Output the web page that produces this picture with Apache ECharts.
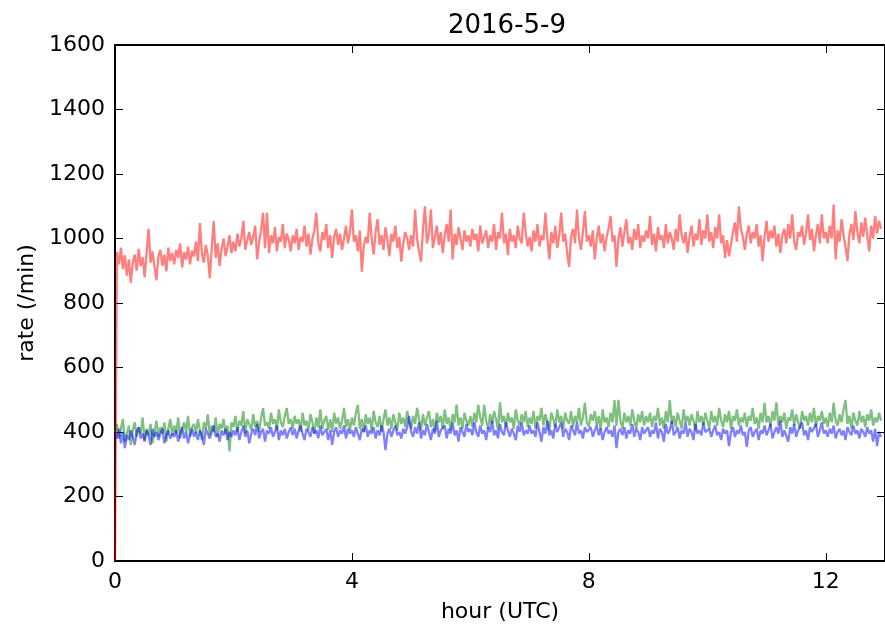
<!DOCTYPE html>
<html>
<head>
<meta charset="utf-8">
<script src="https://cdn.jsdelivr.net/npm/echarts@6/dist/echarts.min.js"></script>
<style>
  html, body { margin: 0; padding: 0; background: #fff; }
  #chart { width: 885px; height: 629px; }
</style>
</head>
<body>
<div id="chart"></div>
<script>
// Count rates per channel, one sample every 2 minutes (one row = one hour)
const sampleStepMinutes = 2;

const xTicks = [0, 4, 8, 12];
const yTicks = [0, 200, 400, 600, 800, 1000, 1200, 1400, 1600];

const redRate = [
  0, 958, 920, 972, 905, 948, 885, 935, 862, 925, 950, 900, 968, 915, 942, 880, 955, 1030, 925, 960, 912, 870, 945, 965, 915, 950, 898, 972, 930, 955,
  920, 965, 940, 985, 910, 958, 935, 975, 920, 962, 945, 990, 930, 1048, 955, 925, 980, 948, 877, 970, 1055, 940, 985, 915, 968, 1000, 945, 975, 1010, 955,
  990, 960, 1015, 975, 1000, 1055, 965, 995, 1020, 980, 1005, 1040, 935, 990, 1025, 1080, 970, 1080, 955, 1010, 985, 1035, 960, 1005, 990, 1045, 970, 1015, 995, 960,
  1010, 985, 1030, 965, 1005, 990, 1040, 975, 1015, 950, 1000, 1025, 1080, 985, 960, 1020, 995, 1045, 970, 1010, 940, 1005, 1030, 980, 1015, 965, 1000, 1040, 985, 1020,
  1090, 990, 1010, 960, 1025, 897, 975, 1005, 985, 1080, 1000, 950, 1020, 1060, 980, 1010, 965, 1035, 995, 945, 1015, 990, 1040, 970, 1005, 928, 985, 1020, 1000, 965,
  1010, 975, 1090, 1000, 960, 928, 1030, 1100, 985, 1015, 1090, 970, 1005, 1040, 980, 1020, 955, 1010, 1045, 990, 1090, 935, 1015, 980, 1035, 1000, 965, 1025, 990, 1010,
  975, 1030, 995, 1015, 960, 1040, 985, 1005, 1025, 970, 1010, 990, 1045, 965, 1020, 1000, 1080, 985, 1015, 948, 1030, 990, 1010, 970, 1040, 1000, 985, 1080, 1020, 975,
  1005, 960, 1025, 990, 1045, 975, 1010, 995, 1080, 1000, 935, 1020, 985, 1040, 970, 1010, 1080, 990, 1015, 955, 912, 1005, 1030, 985, 1090, 1000, 965, 1020, 1085, 990,
  1010, 975, 1025, 935, 1000, 1040, 985, 1015, 960, 1005, 1030, 1070, 990, 1010, 912, 1000, 1035, 975, 1020, 1060, 985, 1005, 965, 1030, 995, 1045, 970, 1010, 990, 1025,
  1000, 1070, 980, 1015, 960, 1035, 995, 1010, 970, 1045, 985, 1020, 1000, 965, 1030, 990, 1075, 1010, 985, 1020, 955, 1005, 1040, 975, 1015, 995, 1060, 980, 1025, 1000,
  1075, 990, 1020, 970, 1035, 1000, 1075, 985, 1010, 940, 995, 945, 940, 1020, 1050, 990, 1100, 1030, 1005, 965, 1015, 1040, 985, 1020, 1000, 1045, 975, 1010, 930, 1005,
  1055, 990, 1025, 1000, 1040, 975, 1015, 955, 1010, 1030, 985, 1045, 1000, 1075, 990, 965, 1020, 1005, 1040, 980, 1015, 1075, 995, 1030, 960, 1010, 1045, 985, 1075, 1000,
  1020, 985, 1040, 1000, 1105, 935, 1025, 990, 1060, 1010, 975, 930, 1015, 1045, 995, 1085, 1020, 985, 1050, 1005, 1065, 1010, 960, 1040, 1000, 1070, 1015, 1055, 1030
];

const greenRate = [
  400, 425, 380, 410, 440, 370, 395, 420, 360, 405, 430, 385, 415, 395, 445, 375, 410, 390, 425, 365, 400, 435, 385, 415, 395, 430, 370, 410, 440, 390,
  420, 395, 445, 380, 410, 430, 400, 450, 385, 415, 425, 395, 440, 405, 375, 430, 410, 455, 390, 420, 400, 445, 385, 425, 410, 440, 395, 420, 340, 430,
  415, 450, 400, 435, 420, 465, 395, 440, 425, 405, 455, 415, 435, 400, 445, 474, 420, 430, 410, 460, 425, 440, 405, 470, 430, 415, 450, 474, 425, 440,
  410, 450, 425, 440, 400, 460, 420, 435, 405, 455, 430, 395, 445, 415, 470, 410, 435, 450, 405, 440, 400, 460, 425, 445, 410, 435, 475, 415, 440, 405,
  445, 420, 460, 484, 410, 440, 400, 455, 425, 445, 405, 465, 430, 415, 450, 400, 440, 470, 420, 445, 410, 455, 430, 405, 460, 425, 445, 415, 465, 430,
  410, 450, 425, 475, 440, 405, 455, 420, 445, 465, 415, 440, 400, 460, 430, 450, 410, 470, 425, 445, 405, 455, 430, 485, 420, 445, 410, 460, 435, 420,
  450, 415, 460, 430, 484, 445, 420, 484, 435, 410, 455, 425, 465, 440, 405, 492, 430, 450, 415, 460, 430, 445, 410, 470, 435, 420, 455, 430, 465, 415,
  445, 425, 465, 410, 450, 435, 475, 420, 455, 430, 405, 460, 440, 415, 470, 430, 450, 410, 460, 435, 425, 465, 415, 450, 430, 475, 420, 445, 490, 430,
  415, 455, 435, 465, 420, 450, 405, 470, 430, 445, 415, 460, 430, 499, 420, 500, 435, 410, 460, 430, 450, 420, 470, 435, 410, 455, 430, 465, 420, 450,
  430, 460, 415, 450, 435, 475, 420, 445, 410, 465, 430, 499, 425, 450, 415, 460, 435, 410, 470, 430, 450, 420, 455, 435, 405, 465, 430, 450, 420, 460,
  435, 410, 465, 430, 450, 420, 475, 435, 415, 455, 430, 465, 410, 450, 435, 470, 420, 445, 430, 460, 415, 450, 435, 475, 425, 445, 410, 460, 430, 490,
  430, 450, 415, 465, 435, 492, 420, 450, 430, 460, 410, 445, 435, 470, 420, 455, 430, 410, 465, 435, 450, 420, 460, 430, 475, 415, 450, 435, 465, 425,
  445, 415, 460, 430, 490, 435, 420, 455, 430, 470, 499, 425, 450, 410, 460, 435, 420, 465, 430, 450, 415, 455, 435, 470, 420, 445, 430, 460, 435
];

const blueRate = [
  395, 380, 410, 365, 400, 350, 390, 375, 405, 385, 360, 400, 415, 380, 395, 370, 405, 390, 360, 410, 385, 400, 375, 395, 410, 365, 390, 405, 380, 395,
  385, 405, 370, 395, 415, 380, 400, 365, 390, 410, 385, 400, 375, 405, 390, 360, 410, 395, 380, 400, 420, 385, 395, 370, 405, 390, 410, 375, 400, 385,
  405, 390, 415, 375, 400, 420, 385, 405, 365, 395, 410, 390, 425, 380, 400, 410, 370, 405, 395, 415, 385, 400, 420, 375, 405, 390, 410, 380, 400, 415,
  390, 410, 380, 405, 420, 395, 375, 410, 400, 385, 415, 395, 405, 380, 420, 390, 400, 410, 375, 405, 360, 400, 415, 385, 405, 395, 420, 380, 410, 395,
  405, 385, 415, 395, 375, 410, 400, 420, 385, 405, 395, 415, 380, 405, 390, 420, 400, 344, 395, 410, 385, 405, 420, 390, 400, 380, 410, 395, 415, 450,
  400, 385, 415, 395, 430, 380, 405, 390, 425, 400, 375, 410, 395, 435, 385, 405, 400, 420, 380, 410, 395, 430, 390, 405, 370, 415, 400, 385, 425, 400,
  410, 390, 430, 400, 385, 420, 395, 405, 375, 415, 400, 435, 390, 405, 380, 425, 400, 390, 430, 405, 385, 410, 395, 375, 420, 400, 430, 390, 405, 395,
  420, 395, 405, 385, 430, 400, 370, 415, 395, 435, 390, 405, 380, 425, 400, 395, 430, 385, 410, 400, 375, 420, 405, 390, 430, 395, 405, 380, 415, 400,
  395, 415, 385, 405, 420, 390, 410, 375, 400, 415, 395, 405, 385, 420, 350, 400, 410, 390, 415, 380, 405, 395, 425, 385, 410, 400, 375, 415, 395, 405,
  415, 385, 405, 395, 430, 380, 410, 400, 370, 425, 395, 405, 435, 390, 400, 415, 380, 405, 395, 430, 385, 410, 400, 375, 425, 395, 405, 390, 430, 400,
  395, 410, 385, 405, 420, 390, 400, 375, 410, 395, 405, 356, 400, 415, 385, 405, 395, 420, 390, 400, 354, 405, 415, 385, 400, 410, 375, 405, 395, 420,
  390, 405, 425, 380, 400, 415, 395, 435, 385, 405, 400, 370, 415, 395, 425, 385, 405, 400, 430, 390, 405, 375, 415, 400, 395, 425, 385, 405, 430, 395,
  405, 385, 410, 395, 420, 380, 400, 410, 390, 405, 375, 415, 400, 390, 420, 395, 405, 380, 410, 400, 385, 415, 395, 405, 370, 410, 356, 400, 385
];

// [hour, rate] pairs for a value x axis
function pairs(values) {
  return values.map((v, i) => [(i * sampleStepMinutes) / 60, v]);
}

const FONT = 'DejaVu Sans';
const chart = echarts.init(document.getElementById('chart'), null, { renderer: 'canvas' });

const xMin = xTicks[0];
const xMax = 13;
const xStep = xTicks[1] - xTicks[0];
const yMin = yTicks[0];
const yMax = yTicks[yTicks.length - 1];
const yStep = yTicks[1] - yTicks[0];

const spine = { show: true, onZero: false, lineStyle: { color: '#000', width: 2 } };
const innerTick = { show: true, inside: true, length: 8, lineStyle: { color: '#000', width: 1 } };
const plainNumber = v => String(v);
const LINE_W = 2.3;

chart.setOption({
  animation: false,
  backgroundColor: '#fff',
  title: {
    text: '2016-5-9',
    left: 502,
    top: 8,
    textAlign: 'center',
    textStyle: { fontFamily: FONT, fontSize: 26, fontWeight: 'normal', color: '#000' }
  },
  grid: { left: 115, top: 45, width: 774, height: 516, containLabel: false },
  xAxis: [
    {
      type: 'value', min: xMin, max: xMax, interval: xStep,
      position: 'bottom',
      name: 'hour (UTC)', nameLocation: 'middle', nameGap: 40,
      nameTextStyle: { fontFamily: FONT, fontSize: 22, color: '#000' },
      axisLine: spine, axisTick: innerTick,
      axisLabel: { fontFamily: FONT, fontSize: 22, color: '#000', margin: 10, showMaxLabel: false, formatter: plainNumber },
      splitLine: { show: false }
    },
    {
      type: 'value', min: xMin, max: xMax, interval: xStep,
      position: 'top',
      axisLine: spine, axisTick: innerTick,
      axisLabel: { show: false }, splitLine: { show: false }
    }
  ],
  yAxis: [
    {
      type: 'value', min: yMin, max: yMax, interval: yStep,
      position: 'left',
      name: 'rate (/min)', nameLocation: 'middle', nameGap: 76,
      nameTextStyle: { fontFamily: FONT, fontSize: 22, color: '#000' },
      axisLine: spine, axisTick: innerTick,
      axisLabel: { fontFamily: FONT, fontSize: 22, color: '#000', margin: 10, formatter: plainNumber },
      splitLine: { show: false }
    },
    {
      type: 'value', min: yMin, max: yMax, interval: yStep,
      position: 'right',
      axisLine: spine, axisTick: innerTick,
      axisLabel: { show: false }, splitLine: { show: false }
    }
  ],
  series: [
    { name: 'red', type: 'line', data: pairs(redRate), showSymbol: false, silent: true,
      lineStyle: { color: 'rgba(255,0,0,0.5)', width: LINE_W } },
    { name: 'green', type: 'line', data: pairs(greenRate), showSymbol: false, silent: true,
      lineStyle: { color: 'rgba(0,128,0,0.5)', width: LINE_W } },
    { name: 'blue', type: 'line', data: pairs(blueRate), showSymbol: false, silent: true,
      lineStyle: { color: 'rgba(0,0,255,0.5)', width: LINE_W } }
  ]
});
</script>
</body>
</html>
